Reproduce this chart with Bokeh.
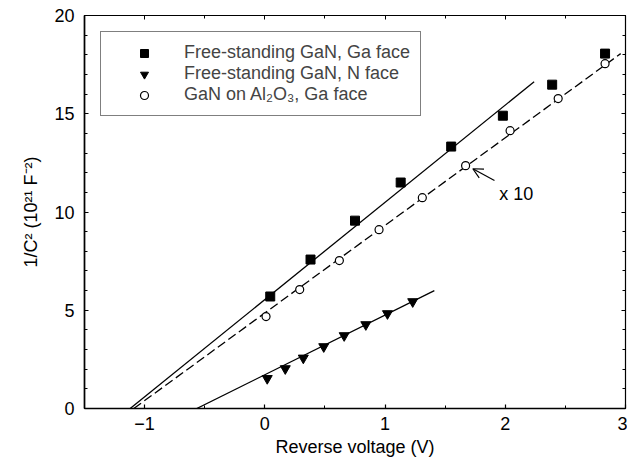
from bokeh.plotting import figure
from bokeh.models import (LinearAxis, SingleIntervalTicker, Range1d, Legend,
                          LegendItem, Arrow, OpenHead, Label)
from bokeh.embed import file_html
from bokeh.resources import INLINE

# ---- data ----
sq_x = [0.045, 0.38, 0.75, 1.13, 1.55, 1.98, 2.39, 2.83]
sq_y = [5.70, 7.58, 9.56, 11.5, 13.33, 14.9, 16.48, 18.06]

tr_x = [0.02, 0.17, 0.32, 0.49, 0.66, 0.84, 1.02, 1.23]
tr_y = [1.53, 2.03, 2.57, 3.15, 3.71, 4.27, 4.83, 5.44]

ci_x = [0.01, 0.29, 0.62, 0.95, 1.31, 1.67, 2.04, 2.44, 2.83]
ci_y = [4.68, 6.05, 7.53, 9.10, 10.73, 12.36, 14.14, 15.77, 17.55]

fit_sq_x = [-1.12, 2.24]
fit_sq_y = [0.0, 16.63]
fit_ci_x = [-1.09, 2.96]
fit_ci_y = [0.0, 18.06]
fit_tr_x = [-0.566, 1.41]
fit_tr_y = [0.0, 6.0]

arrow_x = [1.91, 1.73]
arrow_y = [11.6, 12.2]
note_x = 1.95
note_y = 10.94
note_text = "x 10"

labels = ["Free-standing GaN, Ga face",
          "Free-standing GaN, N face",
          "GaN on Al\u2082O\u2083, Ga face"]

x_title = "Reverse voltage (V)"
y_title = "1/C\u00b2 (10\u00b2\u00b9 F\u207b\u00b2)"

FONT = "Liberation Sans"
FS = "18px"

p = figure(width=627, height=466, output_backend="svg", toolbar_location=None,
           x_range=Range1d(-1.5, 3), y_range=Range1d(0, 20),
           min_border_left=84, min_border_right=2, min_border_top=15,
           min_border_bottom=58,
           x_axis_label=x_title, y_axis_label=y_title)
p.grid.visible = False
p.outline_line_color = "black"
p.outline_line_width = 1.2
p.background_fill_color = "white"
p.border_fill_color = "white"

p.xaxis.ticker = SingleIntervalTicker(interval=1, num_minor_ticks=2)
p.yaxis.ticker = SingleIntervalTicker(interval=5, num_minor_ticks=5)
for ax in (p.xaxis[0], p.yaxis[0]):
    ax.major_tick_in = 4
    ax.major_tick_out = 0
    ax.minor_tick_in = 3
    ax.minor_tick_out = 0
    ax.axis_line_width = 1.6
    ax.major_tick_line_width = 1.2
    ax.major_label_text_font = FONT
    ax.major_label_text_font_size = FS
    ax.major_label_text_color = "black"
    ax.axis_label_text_font = FONT
    ax.axis_label_text_font_size = FS
    ax.axis_label_text_font_style = "normal"
    ax.axis_label_text_color = "black"
p.xaxis.major_label_standoff = 8
p.xaxis.axis_label_standoff = 4
p.yaxis.major_label_standoff = 10
p.yaxis.axis_label_standoff = 10

top = LinearAxis(ticker=SingleIntervalTicker(interval=1, num_minor_ticks=2),
                 major_label_text_font_size="1px", major_label_text_color=None,
                 major_label_standoff=0,
                 major_tick_in=4, major_tick_out=0, minor_tick_in=3,
                 minor_tick_out=0, axis_line_color=None)
right = LinearAxis(ticker=SingleIntervalTicker(interval=5, num_minor_ticks=5),
                   major_label_text_font_size="1px", major_label_text_color=None,
                   major_label_standoff=0,
                   major_tick_in=4, major_tick_out=0, minor_tick_in=3,
                   minor_tick_out=0, axis_line_color=None)
p.add_layout(top, "above")
p.add_layout(right, "right")

# fit lines
p.line(fit_sq_x, fit_sq_y, line_color="black", line_width=1.3)
p.line(fit_ci_x, fit_ci_y, line_color="black", line_width=1.3, line_dash="9 4")
p.line(fit_tr_x, fit_tr_y, line_color="black", line_width=1.3)

# markers
r_sq = p.scatter(sq_x, sq_y, marker="square", size=9, fill_color="black",
                 line_color="black")
r_tr = p.scatter(tr_x, tr_y, marker="inverted_triangle", size=10,
                 fill_color="black", line_color="black")
r_ci = p.scatter(ci_x, ci_y, marker="circle", size=8, fill_color="white",
                 line_color="black", line_width=1.2)

# annotation
p.add_layout(Arrow(end=OpenHead(size=10, line_width=1.2), line_width=1.2,
                   x_start=arrow_x[0], y_start=arrow_y[0],
                   x_end=arrow_x[1], y_end=arrow_y[1]))
p.add_layout(Label(x=note_x, y=note_y, text=note_text, text_font=FONT,
                   text_font_size=FS, text_baseline="middle",
                   text_align="left", text_color="black"))

legend = Legend(items=[LegendItem(label=labels[0], renderers=[r_sq]),
                       LegendItem(label=labels[1], renderers=[r_tr]),
                       LegendItem(label=labels[2], renderers=[r_ci])],
                location="top_left", margin=16, padding=10, spacing=0,
                glyph_width=66, glyph_height=20, label_height=20,
                label_standoff=7, border_line_color="black",
                border_line_width=1.2, label_text_font=FONT,
                label_text_font_size=FS, background_fill_alpha=1.0)
p.add_layout(legend)

open("out.html", "w").write(file_html(p, INLINE))
